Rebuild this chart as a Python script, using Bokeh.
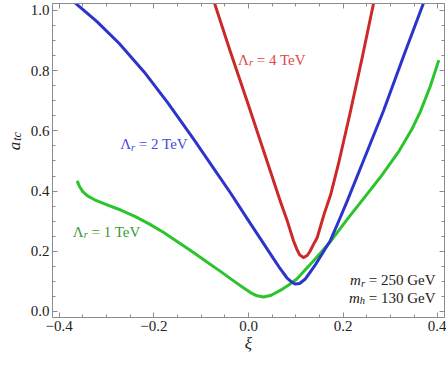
import math
from bokeh.plotting import figure
from bokeh.layouts import row
from bokeh.models import Label, FixedTicker, LinearAxis, CustomJSTickFormatter
from bokeh.core.properties import value
from bokeh.embed import file_html
from bokeh.resources import INLINE

# ---- data ----
green_x = [-0.362, -0.357, -0.35, -0.34, -0.325, -0.30, -0.27, -0.24, -0.21, -0.18,
           -0.15, -0.12, -0.09, -0.06, -0.03, -0.01, 0.005, 0.018, 0.032, 0.048,
           0.067, 0.085, 0.102, 0.137, 0.173, 0.208, 0.243, 0.278, 0.318, 0.345,
           0.363, 0.384, 0.402]
green_y = [0.434, 0.415, 0.398, 0.384, 0.371, 0.355, 0.337, 0.316, 0.291, 0.263,
           0.232, 0.20, 0.167, 0.134, 0.10, 0.078, 0.062, 0.052, 0.048, 0.054,
           0.07, 0.088, 0.108, 0.168, 0.232, 0.305, 0.375, 0.445, 0.533, 0.605,
           0.664, 0.748, 0.835]

blue_x = [-0.37, -0.32, -0.273, -0.22, -0.17, -0.117, -0.07, -0.039, 0.0, 0.025,
          0.05, 0.067, 0.081, 0.092, 0.099, 0.108, 0.12, 0.13, 0.14, 0.155,
          0.173, 0.19, 0.208, 0.24, 0.285, 0.328, 0.371]
blue_y = [1.03, 0.963, 0.89, 0.795, 0.692, 0.575, 0.467, 0.396, 0.302, 0.242,
          0.182, 0.142, 0.112, 0.097, 0.091, 0.093, 0.108, 0.13, 0.152, 0.19,
          0.236, 0.298, 0.365, 0.49, 0.666, 0.85, 1.03]

red_x = [-0.073, -0.039, 0.0, 0.032, 0.067, 0.081, 0.095, 0.102, 0.108, 0.116,
         0.124, 0.130, 0.137, 0.145, 0.16, 0.173, 0.19, 0.214, 0.24, 0.265]
red_y = [1.03, 0.866, 0.685, 0.533, 0.367, 0.305, 0.235, 0.207, 0.188, 0.179,
         0.186, 0.20, 0.222, 0.245, 0.325, 0.385, 0.49, 0.655, 0.842, 1.03]

x_ticks = [-0.4, -0.2, 0.0, 0.2, 0.4]
x_minor = [-0.4 + 0.05 * i for i in range(17)]
y_ticks = [0.0, 0.2, 0.4, 0.6, 0.8, 1.0]
y_minor = [0.05 * i for i in range(21)]

labels_lambda = ["1", "2", "4"]
mass_labels = [("r", "250"), ("h", "130")]
x_title = "ξ"
y_title = ("a", "tc")

RED = "#cc2a2a"
BLUE = "#2b35cc"
GREEN = "#2cc42c"
RED_T = "#e04646"
BLUE_T = "#4a4ae0"
GREEN_T = "#3a9a3a"
AX = "#8c8c8c"
TXT = "#222222"
FONT = "Liberation Serif"
NB = "\u00a0"

W_STRIP = 24
H = 366

p = figure(width=446 - W_STRIP, height=H, x_range=(-0.414, 0.414), y_range=(-0.02, 1.023),
           output_backend="svg", toolbar_location=None,
           min_border_left=52 - W_STRIP, min_border_right=2, min_border_top=3, min_border_bottom=49,
           x_axis_location=None, y_axis_location=None)
p.grid.visible = False
p.outline_line_color = AX
p.background_fill_color = "white"

fmt = CustomJSTickFormatter(code="return (tick < -1e-9 ? '\u2212' : '') + Math.abs(tick).toFixed(1);")

def mk_axis(side, labels, title=None):
    ax = LinearAxis()
    if side in ("below", "above"):
        ax.ticker = FixedTicker(ticks=x_ticks, minor_ticks=x_minor)
    else:
        ax.ticker = FixedTicker(ticks=y_ticks, minor_ticks=y_minor)
    ax.formatter = fmt
    ax.axis_line_color = AX
    ax.major_tick_line_color = AX
    ax.minor_tick_line_color = AX
    ax.major_tick_in = 5
    ax.major_tick_out = 0
    ax.minor_tick_in = 3
    ax.minor_tick_out = 0
    if labels:
        ax.major_label_text_font = FONT
        ax.major_label_text_font_size = "15px"
        ax.major_label_text_color = TXT
        ax.major_label_standoff = 3
    else:
        ax.major_label_text_font_size = "0px"
        ax.major_label_standoff = 0
        ax.major_label_text_alpha = 0
    if title:
        ax.axis_label = title
        ax.axis_label_text_font = FONT
        ax.axis_label_text_font_size = "17px"
        ax.axis_label_text_font_style = "italic"
        ax.axis_label_text_color = TXT
        ax.axis_label_standoff = 0
    p.add_layout(ax, side)

mk_axis("below", True, x_title)
mk_axis("left", True)
mk_axis("above", False)
mk_axis("right", False)

p.line(green_x, green_y, line_color=GREEN, line_width=3, line_join="round")
p.line(blue_x, blue_y, line_color=BLUE, line_width=3, line_join="round")
p.line(red_x, red_y, line_color=RED, line_width=3, line_join="round")

REG = {' ': 0.25, NB: 0.25, '=': 0.564, 'T': 0.611, 'e': 0.444, 'V': 0.722, 'G': 0.722, 'Λ': 0.722}
ITA = {'r': 0.389, 'm': 0.722, 'h': 0.5, 'a': 0.5, 't': 0.278, 'c': 0.444}

def wid(txt, italic, size):
    tb = ITA if italic else REG
    return sum(tb.get(c, 0.5) for c in txt) * size

def rich(x, y, pieces, color, align="left"):
    total = sum(wid(t, it, s) for t, it, s, dy in pieces)
    off = 0 if align == "left" else -total
    for t, it, s, dy in pieces:
        p.add_layout(Label(x=x, y=y, x_offset=off, y_offset=dy, text=t,
                           text_font=FONT, text_font_size=f"{s}px",
                           text_font_style="italic" if it else "normal",
                           text_color=color, text_baseline="alphabetic", text_align="left"))
        off += wid(t, it, s)

S = 15
SUB = 10.5
def eq(s):
    return NB + "=" + NB + s

rich(-0.022, 0.836, [("Λ", False, S, 0), ("r", True, SUB, -3), (eq(labels_lambda[2] + " TeV"), False, S, 0)], RED_T)
rich(-0.271, 0.556, [("Λ", False, S, 0), ("r", True, SUB, -3), (eq(labels_lambda[1] + " TeV"), False, S, 0)], BLUE_T)
rich(-0.371, 0.265, [("Λ", False, S, 0), ("r", True, SUB, -3), (eq(labels_lambda[0] + " TeV"), False, S, 0)], GREEN_T)
rich(0.395, 0.104, [("m", True, S, 0), (mass_labels[0][0], True, SUB, -3), (eq(mass_labels[0][1] + " GeV"), False, S, 0)], TXT, "right")
rich(0.395, 0.045, [("m", True, S, 0), (mass_labels[1][0], True, SUB, -3), (eq(mass_labels[1][1] + " GeV"), False, S, 0)], TXT, "right")

# narrow strip on the left holding the rotated y-axis title
strip = figure(width=W_STRIP, height=H, x_range=(0, W_STRIP), y_range=(0, H),
               output_backend="svg", toolbar_location=None,
               min_border_left=0, min_border_right=0, min_border_top=0, min_border_bottom=0,
               x_axis_location=None, y_axis_location=None)
strip.grid.visible = False
strip.outline_line_color = None
strip.text(x=[13.5], y=[H - 166], text=[y_title[0]], angle=math.pi / 2,
           text_font=value(FONT), text_font_size="17px", text_font_style="italic",
           text_color=TXT, text_baseline="middle", text_align="center")
strip.text(x=[16.5], y=[H - 155], text=[y_title[1]], angle=math.pi / 2,
           text_font=value(FONT), text_font_size="12px", text_font_style="italic",
           text_color=TXT, text_baseline="middle", text_align="center")

layout = row(strip, p, spacing=0)
open("out.html", "w").write(file_html(layout, INLINE))
